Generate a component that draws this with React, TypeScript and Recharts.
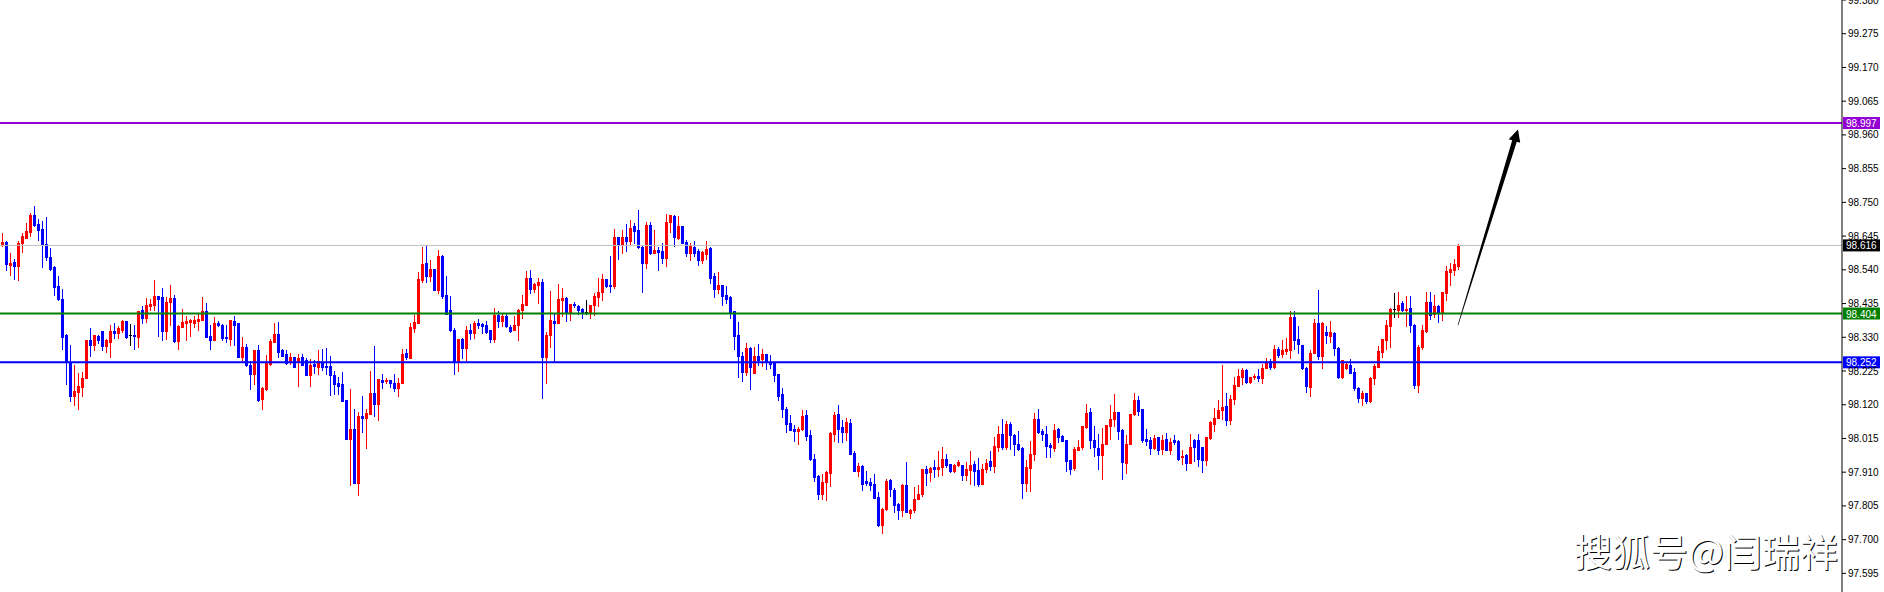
import React from "react";
import { Bar, ComposedChart, ReferenceLine, XAxis, YAxis } from "recharts";

// Candles (oldest first)
const opens = [
  98.617, 98.628, 98.555, 98.565, 98.552, 98.625, 98.640, 98.659, 98.711, 98.683,
  98.666, 98.621, 98.581, 98.548, 98.489, 98.449, 98.337, 98.253, 98.147, 98.160,
  98.175, 98.203, 98.321, 98.305, 98.334, 98.349, 98.303, 98.316, 98.349, 98.344,
  98.352, 98.380, 98.336, 98.337, 98.331, 98.415, 98.391, 98.428, 98.432, 98.458,
  98.454, 98.350, 98.441, 98.453, 98.319, 98.363, 98.375, 98.378, 98.375, 98.381,
  98.385, 98.411, 98.334, 98.323, 98.375, 98.368, 98.330, 98.326, 98.380, 98.373,
  98.269, 98.300, 98.245, 98.217, 98.290, 98.139, 98.168, 98.246, 98.316, 98.340,
  98.290, 98.277, 98.253, 98.269, 98.253, 98.269, 98.259, 98.214, 98.248, 98.238,
  98.253, 98.240, 98.240, 98.214, 98.188, 98.184, 98.134, 98.014, 98.045, 97.876,
  98.084, 98.079, 98.092, 98.157, 98.123, 98.196, 98.194, 98.196, 98.188, 98.172,
  98.188, 98.281, 98.266, 98.359, 98.375, 98.508, 98.562, 98.522, 98.543, 98.477,
  98.584, 98.461, 98.415, 98.352, 98.253, 98.324, 98.297, 98.352, 98.344, 98.375,
  98.371, 98.368, 98.352, 98.324, 98.399, 98.380, 98.397, 98.363, 98.352, 98.368,
  98.415, 98.432, 98.513, 98.479, 98.493, 98.503, 98.269, 98.337, 98.380, 98.375,
  98.446, 98.453, 98.409, 98.435, 98.427, 98.418, 98.410, 98.409, 98.430, 98.456,
  98.472, 98.510, 98.493, 98.489, 98.643, 98.617, 98.643, 98.630, 98.675, 98.664,
  98.612, 98.562, 98.680, 98.591, 98.602, 98.599, 98.576, 98.688, 98.708, 98.640,
  98.675, 98.628, 98.591, 98.610, 98.599, 98.571, 98.589, 98.609, 98.521, 98.480,
  98.493, 98.461, 98.456, 98.411, 98.337, 98.272, 98.222, 98.297, 98.219, 98.272,
  98.262, 98.277, 98.253, 98.251, 98.215, 98.153, 98.108, 98.064, 98.044, 98.038,
  98.045, 98.087, 98.025, 97.952, 97.898, 97.841, 97.881, 97.907, 98.030, 98.090,
  98.051, 98.035, 98.063, 97.969, 97.915, 97.928, 97.882, 97.881, 97.872, 97.832,
  97.746, 97.794, 97.886, 97.856, 97.810, 97.793, 97.871, 97.783, 97.793, 97.827,
  97.841, 97.919, 97.910, 97.926, 97.921, 97.926, 97.950, 97.934, 97.915, 97.931,
  97.931, 97.902, 97.916, 97.934, 97.916, 97.874, 97.919, 97.944, 97.928, 97.989,
  98.028, 97.989, 98.059, 98.027, 97.999, 97.986, 97.876, 97.923, 97.966, 98.075,
  98.039, 98.030, 97.994, 97.986, 98.046, 98.022, 98.009, 97.947, 97.923, 97.978,
  97.987, 98.051, 98.096, 98.009, 97.986, 97.963, 97.999, 98.053, 98.075, 98.096,
  98.041, 97.939, 97.999, 98.090, 98.134, 98.106, 98.013, 98.009, 97.986, 98.018,
  97.983, 98.013, 97.980, 98.009, 98.006, 97.957, 97.963, 97.939, 98.009, 98.009,
  97.987, 97.949, 98.015, 98.061, 98.080, 98.103, 98.116, 98.074, 98.139, 98.179,
  98.205, 98.228, 98.191, 98.205, 98.209, 98.202, 98.233, 98.257, 98.238, 98.295,
  98.277, 98.288, 98.290, 98.392, 98.325, 98.306, 98.235, 98.176, 98.280, 98.373,
  98.273, 98.347, 98.335, 98.342, 98.297, 98.207, 98.233, 98.243, 98.221, 98.173,
  98.141, 98.157, 98.131, 98.202, 98.238, 98.285, 98.323, 98.366, 98.417, 98.415,
  98.436, 98.415, 98.420, 98.368, 98.181, 98.299, 98.351, 98.439, 98.401, 98.427,
  98.405, 98.469, 98.534, 98.539, 98.552,
];

const highs = [
  98.654, 98.631, 98.593, 98.574, 98.630, 98.656, 98.687, 98.716, 98.740, 98.697,
  98.692, 98.703, 98.609, 98.552, 98.521, 98.479, 98.340, 98.305, 98.243, 98.219,
  98.222, 98.323, 98.359, 98.337, 98.337, 98.349, 98.324, 98.368, 98.375, 98.366,
  98.383, 98.381, 98.371, 98.368, 98.413, 98.427, 98.453, 98.448, 98.508, 98.460,
  98.482, 98.456, 98.493, 98.461, 98.368, 98.418, 98.396, 98.387, 98.396, 98.404,
  98.456, 98.437, 98.368, 98.392, 98.380, 98.370, 98.368, 98.383, 98.396, 98.375,
  98.331, 98.309, 98.255, 98.290, 98.307, 98.175, 98.276, 98.324, 98.373, 98.378,
  98.292, 98.290, 98.281, 98.269, 98.279, 98.279, 98.264, 98.261, 98.259, 98.290,
  98.293, 98.296, 98.271, 98.224, 98.207, 98.222, 98.134, 98.170, 98.108, 98.097,
  98.146, 98.108, 98.224, 98.303, 98.201, 98.217, 98.203, 98.198, 98.217, 98.203,
  98.292, 98.292, 98.373, 98.399, 98.534, 98.612, 98.617, 98.571, 98.543, 98.602,
  98.586, 98.521, 98.458, 98.359, 98.326, 98.328, 98.366, 98.371, 98.380, 98.387,
  98.376, 98.381, 98.354, 98.422, 98.411, 98.402, 98.404, 98.368, 98.396, 98.417,
  98.461, 98.536, 98.539, 98.500, 98.513, 98.510, 98.345, 98.475, 98.406, 98.496,
  98.484, 98.456, 98.435, 98.439, 98.432, 98.420, 98.446, 98.432, 98.467, 98.515,
  98.527, 98.511, 98.583, 98.667, 98.643, 98.664, 98.682, 98.695, 98.685, 98.727,
  98.614, 98.688, 98.688, 98.664, 98.610, 98.623, 98.714, 98.711, 98.711, 98.706,
  98.677, 98.633, 98.623, 98.630, 98.604, 98.599, 98.630, 98.612, 98.529, 98.534,
  98.493, 98.489, 98.458, 98.413, 98.378, 98.285, 98.313, 98.300, 98.300, 98.309,
  98.293, 98.279, 98.276, 98.253, 98.217, 98.172, 98.113, 98.087, 98.058, 98.051,
  98.103, 98.103, 98.042, 97.967, 97.902, 97.903, 97.915, 98.035, 98.097, 98.118,
  98.071, 98.079, 98.077, 97.975, 97.938, 97.931, 97.915, 97.893, 97.905, 97.848,
  97.798, 97.889, 97.889, 97.860, 97.813, 97.874, 97.941, 97.796, 97.863, 97.869,
  97.921, 97.928, 97.926, 97.949, 97.976, 97.988, 97.967, 97.936, 97.934, 97.947,
  97.931, 97.942, 97.975, 97.945, 97.955, 97.937, 97.952, 97.975, 98.020, 98.053,
  98.077, 98.069, 98.067, 98.030, 98.038, 97.987, 97.947, 98.006, 98.095, 98.108,
  98.043, 98.053, 98.001, 98.061, 98.048, 98.027, 98.009, 97.949, 97.989, 98.009,
  98.053, 98.122, 98.110, 98.053, 98.030, 98.049, 98.056, 98.119, 98.152, 98.098,
  98.043, 98.027, 98.091, 98.157, 98.147, 98.108, 98.043, 98.020, 98.025, 98.020,
  98.025, 98.033, 98.015, 98.027, 98.009, 97.978, 97.968, 98.028, 98.013, 98.028,
  97.989, 98.020, 98.070, 98.111, 98.134, 98.243, 98.158, 98.150, 98.205, 98.231,
  98.233, 98.230, 98.207, 98.217, 98.230, 98.247, 98.264, 98.261, 98.306, 98.301,
  98.321, 98.327, 98.412, 98.412, 98.365, 98.306, 98.238, 98.290, 98.387, 98.477,
  98.379, 98.365, 98.381, 98.345, 98.299, 98.259, 98.251, 98.261, 98.233, 98.176,
  98.162, 98.158, 98.205, 98.247, 98.304, 98.325, 98.384, 98.420, 98.469, 98.470,
  98.443, 98.460, 98.459, 98.370, 98.306, 98.368, 98.470, 98.470, 98.462, 98.431,
  98.470, 98.552, 98.562, 98.573, 98.621,
];

const lows = [
  98.614, 98.539, 98.524, 98.511, 98.508, 98.597, 98.638, 98.645, 98.675, 98.633,
  98.550, 98.571, 98.539, 98.461, 98.446, 98.295, 98.186, 98.132, 98.118, 98.108,
  98.147, 98.203, 98.272, 98.290, 98.313, 98.290, 98.285, 98.269, 98.328, 98.328,
  98.347, 98.328, 98.307, 98.292, 98.300, 98.375, 98.378, 98.415, 98.415, 98.334,
  98.323, 98.324, 98.368, 98.316, 98.295, 98.363, 98.323, 98.334, 98.363, 98.354,
  98.383, 98.331, 98.292, 98.321, 98.365, 98.321, 98.314, 98.305, 98.305, 98.269,
  98.253, 98.240, 98.170, 98.186, 98.132, 98.108, 98.167, 98.243, 98.316, 98.269,
  98.272, 98.248, 98.248, 98.238, 98.177, 98.243, 98.212, 98.178, 98.219, 98.217,
  98.227, 98.217, 98.151, 98.153, 98.153, 98.132, 98.014, 97.871, 97.876, 97.839,
  98.035, 97.985, 98.092, 98.084, 98.073, 98.173, 98.188, 98.175, 98.163, 98.147,
  98.188, 98.261, 98.264, 98.347, 98.375, 98.503, 98.503, 98.506, 98.477, 98.467,
  98.453, 98.402, 98.349, 98.217, 98.224, 98.264, 98.259, 98.326, 98.329, 98.359,
  98.342, 98.344, 98.316, 98.316, 98.363, 98.365, 98.361, 98.347, 98.352, 98.323,
  98.389, 98.430, 98.467, 98.472, 98.437, 98.142, 98.188, 98.300, 98.253, 98.375,
  98.396, 98.381, 98.383, 98.423, 98.404, 98.391, 98.404, 98.391, 98.399, 98.427,
  98.446, 98.487, 98.472, 98.484, 98.574, 98.591, 98.599, 98.621, 98.625, 98.607,
  98.472, 98.547, 98.589, 98.591, 98.539, 98.562, 98.553, 98.659, 98.615, 98.635,
  98.623, 98.584, 98.571, 98.583, 98.555, 98.562, 98.573, 98.498, 98.456, 98.467,
  98.430, 98.437, 98.389, 98.293, 98.207, 98.193, 98.212, 98.168, 98.219, 98.245,
  98.241, 98.231, 98.235, 98.194, 98.136, 98.082, 98.035, 98.042, 98.007, 97.999,
  98.040, 98.009, 97.949, 97.884, 97.827, 97.827, 97.824, 97.867, 98.007, 98.004,
  98.004, 98.009, 97.967, 97.915, 97.898, 97.855, 97.869, 97.855, 97.829, 97.741,
  97.721, 97.791, 97.835, 97.785, 97.765, 97.775, 97.785, 97.767, 97.785, 97.827,
  97.837, 97.871, 97.882, 97.895, 97.898, 97.900, 97.926, 97.910, 97.910, 97.928,
  97.885, 97.885, 97.874, 97.871, 97.867, 97.874, 97.911, 97.916, 97.911, 97.976,
  97.981, 97.983, 97.983, 97.963, 97.978, 97.830, 97.851, 97.851, 97.949, 98.032,
  98.009, 97.957, 97.957, 97.975, 98.004, 98.006, 97.913, 97.905, 97.916, 97.978,
  97.983, 98.049, 97.986, 97.961, 97.919, 97.888, 97.997, 98.012, 98.054, 98.012,
  97.888, 97.908, 97.997, 98.087, 98.087, 98.004, 97.994, 97.968, 97.983, 97.968,
  97.966, 97.978, 97.968, 97.999, 97.947, 97.937, 97.916, 97.939, 97.945, 97.928,
  97.911, 97.931, 98.012, 98.039, 98.080, 98.075, 98.056, 98.061, 98.121, 98.179,
  98.186, 98.188, 98.188, 98.199, 98.195, 98.188, 98.233, 98.230, 98.235, 98.269,
  98.269, 98.277, 98.264, 98.293, 98.280, 98.230, 98.160, 98.147, 98.280, 98.261,
  98.235, 98.313, 98.316, 98.275, 98.204, 98.202, 98.230, 98.219, 98.165, 98.129,
  98.119, 98.124, 98.129, 98.186, 98.238, 98.269, 98.295, 98.301, 98.394, 98.394,
  98.412, 98.365, 98.347, 98.173, 98.160, 98.295, 98.347, 98.386, 98.394, 98.377,
  98.384, 98.446, 98.493, 98.524, 98.543,
];

const closes = [
  98.628, 98.558, 98.562, 98.552, 98.625, 98.645, 98.661, 98.711, 98.680, 98.664,
  98.621, 98.581, 98.543, 98.487, 98.449, 98.331, 98.253, 98.147, 98.162, 98.177,
  98.203, 98.321, 98.305, 98.337, 98.321, 98.303, 98.321, 98.349, 98.344, 98.359,
  98.380, 98.331, 98.336, 98.335, 98.411, 98.389, 98.432, 98.433, 98.458, 98.450,
  98.350, 98.441, 98.453, 98.319, 98.365, 98.378, 98.380, 98.383, 98.383, 98.387,
  98.411, 98.331, 98.323, 98.375, 98.368, 98.328, 98.329, 98.383, 98.368, 98.269,
  98.300, 98.243, 98.217, 98.290, 98.136, 98.173, 98.251, 98.319, 98.340, 98.285,
  98.272, 98.251, 98.269, 98.238, 98.264, 98.243, 98.214, 98.243, 98.240, 98.255,
  98.238, 98.238, 98.214, 98.186, 98.178, 98.132, 98.014, 98.043, 97.876, 98.084,
  98.079, 98.094, 98.157, 98.123, 98.199, 98.191, 98.196, 98.188, 98.172, 98.189,
  98.277, 98.269, 98.363, 98.378, 98.511, 98.558, 98.522, 98.543, 98.477, 98.584,
  98.459, 98.404, 98.352, 98.253, 98.324, 98.297, 98.352, 98.344, 98.376, 98.368,
  98.365, 98.347, 98.324, 98.399, 98.380, 98.397, 98.365, 98.349, 98.368, 98.415,
  98.433, 98.515, 98.479, 98.496, 98.503, 98.269, 98.337, 98.383, 98.375, 98.449,
  98.453, 98.409, 98.433, 98.430, 98.415, 98.409, 98.410, 98.430, 98.458, 98.472,
  98.510, 98.489, 98.489, 98.643, 98.617, 98.641, 98.630, 98.669, 98.661, 98.610,
  98.562, 98.680, 98.591, 98.602, 98.597, 98.578, 98.688, 98.711, 98.643, 98.675,
  98.623, 98.591, 98.617, 98.593, 98.571, 98.597, 98.605, 98.515, 98.480, 98.493,
  98.458, 98.449, 98.407, 98.334, 98.272, 98.222, 98.298, 98.238, 98.272, 98.259,
  98.277, 98.257, 98.248, 98.214, 98.147, 98.108, 98.061, 98.042, 98.038, 98.043,
  98.084, 98.023, 97.952, 97.895, 97.841, 97.881, 97.910, 98.032, 98.087, 98.045,
  98.035, 98.066, 97.967, 97.915, 97.929, 97.874, 97.876, 97.869, 97.830, 97.746,
  97.796, 97.884, 97.858, 97.808, 97.793, 97.871, 97.785, 97.793, 97.827, 97.841,
  97.919, 97.907, 97.923, 97.921, 97.926, 97.952, 97.931, 97.915, 97.931, 97.941,
  97.900, 97.921, 97.931, 97.913, 97.874, 97.921, 97.940, 97.928, 97.991, 98.028,
  97.989, 98.061, 98.025, 97.999, 97.981, 97.876, 97.926, 97.966, 98.075, 98.035,
  98.028, 97.991, 97.989, 98.041, 98.018, 98.007, 97.945, 97.919, 97.981, 97.987,
  98.053, 98.093, 98.009, 97.987, 97.963, 97.999, 98.056, 98.077, 98.096, 98.039,
  97.942, 97.999, 98.091, 98.134, 98.100, 98.009, 98.006, 97.986, 98.015, 97.980,
  98.009, 97.980, 98.004, 98.004, 97.952, 97.960, 97.940, 97.987, 97.987, 97.950,
  97.949, 98.018, 98.067, 98.080, 98.105, 98.113, 98.074, 98.139, 98.181, 98.209,
  98.228, 98.191, 98.205, 98.209, 98.202, 98.233, 98.254, 98.236, 98.295, 98.275,
  98.290, 98.292, 98.394, 98.321, 98.308, 98.233, 98.178, 98.280, 98.373, 98.273,
  98.376, 98.337, 98.347, 98.297, 98.207, 98.259, 98.247, 98.219, 98.171, 98.141,
  98.157, 98.131, 98.204, 98.240, 98.288, 98.325, 98.368, 98.418, 98.417, 98.431,
  98.415, 98.417, 98.368, 98.181, 98.299, 98.353, 98.441, 98.399, 98.427, 98.407,
  98.470, 98.536, 98.541, 98.558, 98.617,
];

// price scale ticks on the right
const yTicks = [
  97.595, 97.7, 97.805, 97.91, 98.015, 98.12, 98.225, 98.33, 98.435, 98.54,
  98.645, 98.75, 98.855, 98.96, 99.065, 99.17, 99.275, 99.38,
];

// horizontal levels drawn on the chart
const levelPrices = [98.997, 98.616, 98.404, 98.252];
const levelColors = ["#9400D3", "#C0C0C0", "#008000", "#0000FF"];
const tagColors = ["#9400D3", "#000000", "#008000", "#0000FF"];
const levelWidths = [2, 1, 2, 2];

// hand drawn arrow (bar slot, price)
const arrowFrom = { x: 364, y: 98.368 };
const arrowTo = { x: 379, y: 98.977 };

const TOTAL_SLOTS = 460;

const data = Array.from({ length: TOTAL_SLOTS }, (_, i) =>
  i < opens.length
    ? { i, o: opens[i], h: highs[i], l: lows[i], c: closes[i], range: [lows[i], highs[i]] }
    : { i }
);

// one candle: wick + body, positioned from the bar's high/low rectangle
const Candle = (props: any) => {
  const { x, y, width, height, payload } = props;
  if (!payload || payload.h == null) return null;
  const { o, h, l, c } = payload;
  const span = h - l;
  const py = (v: number) => (span > 0 ? y + ((h - v) / span) * height : y);
  const center = x + width / 2;
  const color = c > o ? "#FF0000" : c < o ? "#0000FF" : "#000000";
  const wickTop = Math.round(py(h));
  const wickBot = Math.round(py(l));
  const bodyTop = Math.round(py(Math.max(o, c)));
  const bodyBot = Math.round(py(Math.min(o, c)));
  return (
    <g shapeRendering="crispEdges">
      <rect x={Math.round(center)} y={wickTop} width={1} height={wickBot - wickTop + 1} fill={color} />
      <rect x={Math.round(center - 1)} y={bodyTop} width={3} height={bodyBot - bodyTop + 1} fill={color} />
    </g>
  );
};

const PriceTag = (props: any) => {
  const { viewBox, bg, value } = props;
  if (!viewBox) return null;
  const x = viewBox.x + viewBox.width + 1;
  const y = viewBox.y;
  return (
    <g>
      <rect x={x} y={y - 6} width={37} height={12} fill={bg} />
      <text
        x={x + 3}
        y={y + 4}
        fill="#FFFFFF"
        fontSize={10}
        fontFamily="Liberation Sans, Arial, sans-serif"
      >
        {value.toFixed(3)}
      </text>
    </g>
  );
};

// tapered arrow: thin at the tail, thicker near the head
const ArrowShape = (props: any) => {
  const { x1, y1, x2, y2 } = props;
  if ([x1, y1, x2, y2].some((v) => v == null || isNaN(v))) return null;
  const dx = x2 - x1;
  const dy = y2 - y1;
  const len = Math.hypot(dx, dy) || 1;
  const ux = dx / len;
  const uy = dy / len;
  const nx = -uy;
  const ny = ux;
  const headLen = 12;
  const headW = 6;
  const shaftW = 2.4;
  const tailW = 0.3;
  const bx = x2 - ux * headLen;
  const by = y2 - uy * headLen;
  const pts = [
    [x1 + nx * tailW, y1 + ny * tailW],
    [bx + nx * shaftW, by + ny * shaftW],
    [bx + nx * headW, by + ny * headW],
    [x2, y2],
    [bx - nx * headW, by - ny * headW],
    [bx - nx * shaftW, by - ny * shaftW],
    [x1 - nx * tailW, y1 - ny * tailW],
  ];
  return <polygon points={pts.map((p) => p.join(",")).join(" ")} fill="#000000" />;
};

export default function App() {
  return (
    <div
      style={{
        position: "absolute",
        left: 0,
        top: 0,
        width: 1884,
        height: 592,
        overflow: "hidden",
        background: "#FFFFFF",
      }}
    >
      <ComposedChart
        width={1884}
        height={592}
        data={data}
        margin={{ top: 0, right: 0, bottom: 0, left: 0 }}
        barCategoryGap={0}
        barGap={0}
      >
        <XAxis dataKey="i" type="category" hide padding={{ left: 0, right: 2 }} />
        <YAxis
          orientation="right"
          width={42}
          domain={[97.537, 99.38]}
          allowDataOverflow
          ticks={yTicks}
          interval={0}
          tickSize={4}
          tickMargin={2}
          tickFormatter={(v: number) => v.toFixed(3)}
          tick={{ fill: "#000000", fontSize: 10, fontFamily: "Liberation Sans, Arial, sans-serif" }}
          axisLine={{ stroke: "#000000" }}
          tickLine={{ stroke: "#000000" }}
        />
        <Bar dataKey="range" shape={<Candle />} isAnimationActive={false} />
        {levelPrices.map((p, k) => (
          <ReferenceLine
            key={p}
            y={p}
            stroke={levelColors[k]}
            strokeWidth={levelWidths[k]}
            label={<PriceTag bg={tagColors[k]} value={p} />}
          />
        ))}
        <ReferenceLine segment={[arrowFrom, arrowTo]} stroke="#000000" shape={<ArrowShape />} />
      </ComposedChart>
      <div
        style={{
          position: "absolute",
          right: 46,
          top: 531,
          fontFamily: '"Noto Sans CJK SC", sans-serif',
          fontSize: 38,
          lineHeight: "38px",
          color: "#FFFFFF",
          textShadow: "1px 1px 0 #000000",
          whiteSpace: "nowrap",
        }}
      >
        搜狐号@闫瑞祥
      </div>
    </div>
  );
}
